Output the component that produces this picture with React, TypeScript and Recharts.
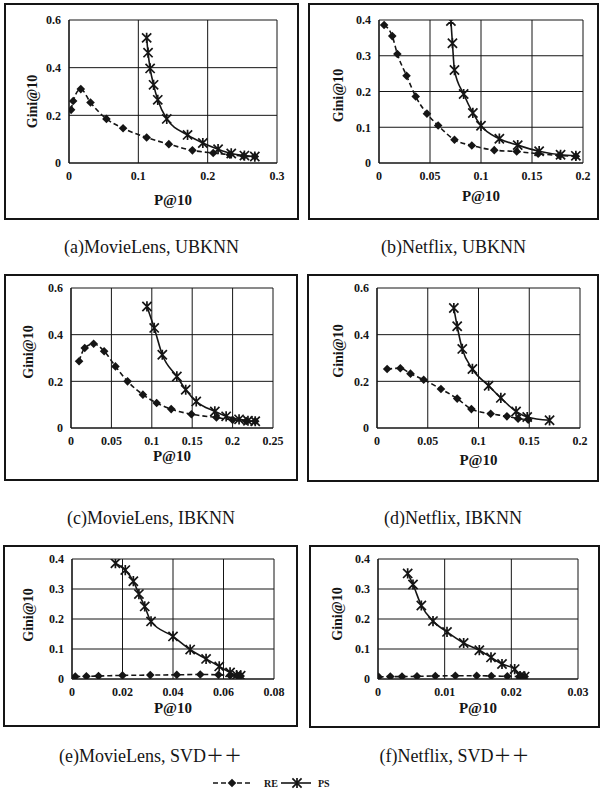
import { CartesianGrid, Label, Line, LineChart, XAxis, YAxis } from "recharts";

// (a) MovieLens, UBKNN
const reP_a = [0.003, 0.006, 0.017, 0.031, 0.054, 0.078, 0.112, 0.144, 0.178, 0.208, 0.232, 0.252, 0.268];
const reGini_a = [0.223, 0.26, 0.31, 0.254, 0.185, 0.146, 0.107, 0.079, 0.053, 0.042, 0.035, 0.029, 0.027];
const psP_a = [0.112, 0.114, 0.117, 0.122, 0.128, 0.141, 0.171, 0.193, 0.215, 0.234, 0.253, 0.268];
const psGini_a = [0.525, 0.463, 0.397, 0.328, 0.265, 0.185, 0.118, 0.084, 0.058, 0.04, 0.031, 0.027];

// (b) Netflix, UBKNN
const reP_b = [0.005, 0.013, 0.018, 0.027, 0.036, 0.047, 0.058, 0.074, 0.091, 0.113, 0.135, 0.156, 0.177, 0.193];
const reGini_b = [0.386, 0.355, 0.305, 0.244, 0.186, 0.138, 0.105, 0.065, 0.049, 0.036, 0.032, 0.026, 0.021, 0.019];
const psP_b = [0.0705, 0.072, 0.074, 0.083, 0.092, 0.1, 0.118, 0.136, 0.157, 0.178, 0.193];
const psGini_b = [0.397, 0.335, 0.26, 0.193, 0.14, 0.104, 0.068, 0.05, 0.033, 0.023, 0.02];

// (c) MovieLens, IBKNN
const reP_c = [0.01, 0.017, 0.028, 0.041, 0.055, 0.07, 0.089, 0.106, 0.124, 0.149, 0.18, 0.2, 0.217, 0.228];
const reGini_c = [0.286, 0.343, 0.361, 0.329, 0.264, 0.2, 0.143, 0.107, 0.081, 0.059, 0.045, 0.035, 0.03, 0.029];
const psP_c = [0.094, 0.103, 0.113, 0.131, 0.142, 0.155, 0.178, 0.192, 0.208, 0.219, 0.228];
const psGini_c = [0.521, 0.429, 0.314, 0.221, 0.164, 0.114, 0.071, 0.05, 0.037, 0.031, 0.029];

// (d) Netflix, IBKNN
const reP_d = [0.01, 0.023, 0.033, 0.046, 0.063, 0.079, 0.093, 0.112, 0.128, 0.139, 0.149];
const reGini_d = [0.253, 0.256, 0.233, 0.207, 0.167, 0.126, 0.081, 0.061, 0.05, 0.04, 0.036];
const psP_d = [0.0757, 0.079, 0.084, 0.094, 0.11, 0.122, 0.137, 0.148, 0.17];
const psGini_d = [0.514, 0.436, 0.339, 0.253, 0.181, 0.129, 0.071, 0.047, 0.033];

// (e) MovieLens, SVD++
const reP_e = [0.0013, 0.0057, 0.0105, 0.02, 0.031, 0.0415, 0.0508, 0.058, 0.0626, 0.0655, 0.0668];
const reGini_e = [0.008, 0.009, 0.01, 0.012, 0.013, 0.014, 0.015, 0.014, 0.012, 0.011, 0.01];
const psP_e = [0.0172, 0.0211, 0.0243, 0.0265, 0.0288, 0.0313, 0.04, 0.0468, 0.0531, 0.0583, 0.0626, 0.0652, 0.0668];
const psGini_e = [0.386, 0.363, 0.326, 0.283, 0.242, 0.192, 0.142, 0.098, 0.067, 0.042, 0.022, 0.013, 0.011];

// (f) Netflix, SVD++
const reP_f = [0.0001, 0.00185, 0.0036, 0.00585, 0.0086, 0.0116, 0.0148, 0.017, 0.0194, 0.0212, 0.022];
const reGini_f = [0.007, 0.008, 0.008, 0.009, 0.01, 0.011, 0.011, 0.01, 0.009, 0.008, 0.008];
const psP_f = [0.00445, 0.00525, 0.0065, 0.00825, 0.01035, 0.01285, 0.0152, 0.01695, 0.0186, 0.0205, 0.0213, 0.022];
const psGini_f = [0.352, 0.315, 0.245, 0.193, 0.157, 0.12, 0.096, 0.072, 0.05, 0.033, 0.01, 0.008];

const xTicks_a = [0, 0.1, 0.2, 0.3];
const yTicks_a = [0, 0.2, 0.4, 0.6];
const xTicks_b = [0, 0.05, 0.1, 0.15, 0.2];
const yTicks_b = [0, 0.1, 0.2, 0.3, 0.4];
const xTicks_c = [0, 0.05, 0.1, 0.15, 0.2, 0.25];
const yTicks_c = [0, 0.2, 0.4, 0.6];
const xTicks_d = [0, 0.05, 0.1, 0.15, 0.2];
const yTicks_d = [0, 0.2, 0.4, 0.6];
const xTicks_e = [0, 0.02, 0.04, 0.06, 0.08];
const yTicks_e = [0, 0.1, 0.2, 0.3, 0.4];
const xTicks_f = [0, 0.01, 0.02, 0.03];
const yTicks_f = [0, 0.1, 0.2, 0.3, 0.4];

const captions = [
  "(a)MovieLens, UBKNN",
  "(b)Netflix, UBKNN",
  "(c)MovieLens, IBKNN",
  "(d)Netflix, IBKNN",
  "(e)MovieLens, SVD＋＋",
  "(f)Netflix, SVD＋＋",
];
const seriesNames = ["RE", "PS"];

const SERIF = '"Liberation Serif", "DejaVu Serif", serif';
const CAPTION_FONT = '"Liberation Serif", "DejaVu Serif", "Noto Sans CJK SC", serif';
const INK = "#151515";
const BORDER = 2;
const YAXIS_W = 40;
const XAXIS_H = 44;

type Pt = { x: number; y: number };
const zip = (xs: number[], ys: number[]): Pt[] => xs.map((x, i) => ({ x, y: ys[i] }));

type Box = { x: number; y: number; w: number; h: number };
type Plot = { l: number; t: number; r: number; b: number };

interface PanelCfg {
  box: Box;
  plot: Plot;
  xTicks: number[];
  yTicks: number[];
  re: Pt[];
  ps: Pt[];
  caption: string;
  captionY: number;
  xLabelDy: number;
  yLabelX: number;
  yLabelShift: number;
}

const panels: PanelCfg[] = [
  {
    box: { x: 4, y: 3, w: 295, h: 217 }, plot: { l: 69, t: 20, r: 277, b: 163 },
    xTicks: xTicks_a, yTicks: yTicks_a, re: zip(reP_a, reGini_a), ps: zip(psP_a, psGini_a),
    caption: captions[0], captionY: 247, xLabelDy: 37, yLabelX: 32, yLabelShift: 10,
  },
  {
    box: { x: 308, y: 3, w: 291, h: 217 }, plot: { l: 379, t: 20, r: 583, b: 163 },
    xTicks: xTicks_b, yTicks: yTicks_b, re: zip(reP_b, reGini_b), ps: zip(psP_b, psGini_b),
    caption: captions[1], captionY: 247, xLabelDy: 33, yLabelX: 338, yLabelShift: 4,
  },
  {
    box: { x: 4, y: 274, w: 294, h: 207 }, plot: { l: 71, t: 288, r: 273, b: 428 },
    xTicks: xTicks_c, yTicks: yTicks_c, re: zip(reP_c, reGini_c), ps: zip(psP_c, psGini_c),
    caption: captions[2], captionY: 518, xLabelDy: 28, yLabelX: 28, yLabelShift: -6,
  },
  {
    box: { x: 307, y: 274, w: 292, h: 208 }, plot: { l: 377, t: 288, r: 580, b: 428 },
    xTicks: xTicks_d, yTicks: yTicks_d, re: zip(reP_d, reGini_d), ps: zip(psP_d, psGini_d),
    caption: captions[3], captionY: 518, xLabelDy: 32, yLabelX: 338, yLabelShift: -7,
  },
  {
    box: { x: 3, y: 545, w: 295, h: 182 }, plot: { l: 72, t: 559, r: 274, b: 679 },
    xTicks: xTicks_e, yTicks: yTicks_e, re: zip(reP_e, reGini_e), ps: zip(psP_e, psGini_e),
    caption: captions[4], captionY: 756, xLabelDy: 29, yLabelX: 28, yLabelShift: -4,
  },
  {
    box: { x: 309, y: 545, w: 291, h: 183 }, plot: { l: 378, t: 559, r: 578, b: 679 },
    xTicks: xTicks_f, yTicks: yTicks_f, re: zip(reP_f, reGini_f), ps: zip(psP_f, psGini_f),
    caption: captions[5], captionY: 756, xLabelDy: 29, yLabelX: 337, yLabelShift: -5,
  },
];

function Diamond({ cx, cy, r = 4.3 }: { cx: number; cy: number; r?: number }) {
  return <path d={`M${cx},${cy - r}L${cx + r},${cy}L${cx},${cy + r}L${cx - r},${cy}Z`} fill={INK} />;
}

function Star({ cx, cy, r = 4.6 }: { cx: number; cy: number; r?: number }) {
  return (
    <path
      d={`M${cx - r},${cy - r}L${cx + r},${cy + r}M${cx - r},${cy + r}L${cx + r},${cy - r}M${cx},${cy - r - 0.5}L${cx},${cy + r + 0.5}`}
      stroke={INK}
      strokeWidth={1.7}
      fill="none"
    />
  );
}

const tickStyle = { fill: INK, fontSize: 12, fontWeight: 700, fontFamily: SERIF };

function Panel({ cfg }: { cfg: PanelCfg }) {
  const { box, plot } = cfg;
  const ox = box.x + BORDER;
  const oy = box.y + BORDER;
  const cw = box.w - 2 * BORDER;
  const ch = box.h - 2 * BORDER;
  const margin = {
    left: plot.l - ox - YAXIS_W,
    top: plot.t - oy,
    right: ox + cw - plot.r,
    bottom: oy + ch - plot.b - XAXIS_H,
  };
  const xMax = cfg.xTicks[cfg.xTicks.length - 1];
  const yMax = cfg.yTicks[cfg.yTicks.length - 1];

  return (
    <>
      <div
        style={{
          position: "absolute",
          left: box.x,
          top: box.y,
          width: box.w,
          height: box.h,
          boxSizing: "border-box",
          border: `${BORDER}px solid ${INK}`,
        }}
      >
        <LineChart width={cw} height={ch} margin={margin}>
          <CartesianGrid stroke={INK} strokeWidth={1} />
          <XAxis
            type="number"
            dataKey="x"
            domain={[0, xMax]}
            ticks={cfg.xTicks}
            interval={0}
            allowDataOverflow
            height={XAXIS_H}
            tickLine={false}
            axisLine={{ stroke: INK, strokeWidth: 1.2 }}
            tick={tickStyle}
          >
            <Label
              content={({ viewBox }: any) => (
                <text
                  x={viewBox.x + viewBox.width / 2}
                  y={viewBox.y + cfg.xLabelDy}
                  textAnchor="middle"
                  dominantBaseline="central"
                  fontFamily={SERIF}
                  fontSize={15}
                  fontWeight={700}
                  fill={INK}
                >
                  P@10
                </text>
              )}
            />
          </XAxis>
          <YAxis
            type="number"
            domain={[0, yMax]}
            ticks={cfg.yTicks}
            interval={0}
            allowDataOverflow
            width={YAXIS_W}
            tickLine={false}
            axisLine={{ stroke: INK, strokeWidth: 1.2 }}
            tick={tickStyle}
          >
            <Label
              content={({ viewBox }: any) => {
                const lx = cfg.yLabelX - ox;
                const ly = viewBox.y + viewBox.height / 2 + cfg.yLabelShift;
                return (
                  <text
                    x={lx}
                    y={ly}
                    transform={`rotate(-90 ${lx} ${ly})`}
                    textAnchor="middle"
                    dominantBaseline="central"
                    fontFamily={SERIF}
                    fontSize={14}
                    fontWeight={700}
                    fill={INK}
                  >
                    Gini@10
                  </text>
                );
              }}
            />
          </YAxis>
          <Line
            name={seriesNames[0]}
            data={cfg.re}
            dataKey="y"
            type="monotoneX"
            stroke={INK}
            strokeWidth={1.6}
            strokeDasharray="5 3"
            dot={(p: any) => <Diamond key={`re-${p.index}`} cx={p.cx} cy={p.cy} />}
            activeDot={false}
            isAnimationActive={false}
          />
          <Line
            name={seriesNames[1]}
            data={cfg.ps}
            dataKey="y"
            type="monotoneX"
            stroke={INK}
            strokeWidth={1.6}
            dot={(p: any) => <Star key={`ps-${p.index}`} cx={p.cx} cy={p.cy} />}
            activeDot={false}
            isAnimationActive={false}
          />
        </LineChart>
      </div>
      <div
        style={{
          position: "absolute",
          left: box.x,
          width: box.w,
          top: cfg.captionY - 11,
          height: 22,
          lineHeight: "22px",
          textAlign: "center",
          fontFamily: CAPTION_FONT,
          fontSize: 18,
          color: INK,
          whiteSpace: "nowrap",
        }}
      >
        {cfg.caption}
      </div>
    </>
  );
}

function SharedLegend() {
  return (
    <svg width={600} height={20} style={{ position: "absolute", left: 0, top: 773 }}>
      <line x1={213} y1={10} x2={251} y2={10} stroke={INK} strokeWidth={1.6} strokeDasharray="5 3" />
      <Diamond cx={232} cy={10} />
      <text x={264} y={10} dominantBaseline="central" fontFamily={SERIF} fontSize={10} fontWeight={700} fill={INK}>
        {seriesNames[0]}
      </text>
      <line x1={281} y1={10} x2={311} y2={10} stroke={INK} strokeWidth={1.6} />
      <Star cx={297} cy={10} />
      <text x={318} y={10} dominantBaseline="central" fontFamily={SERIF} fontSize={10} fontWeight={700} fill={INK}>
        {seriesNames[1]}
      </text>
    </svg>
  );
}

export default function App() {
  return (
    <div
      style={{
        position: "absolute",
        left: 0,
        top: 0,
        width: 600,
        height: 796,
        background: "#fff",
        overflow: "hidden",
      }}
    >
      {panels.map((cfg, i) => (
        <Panel key={i} cfg={cfg} />
      ))}
      <SharedLegend />
    </div>
  );
}
